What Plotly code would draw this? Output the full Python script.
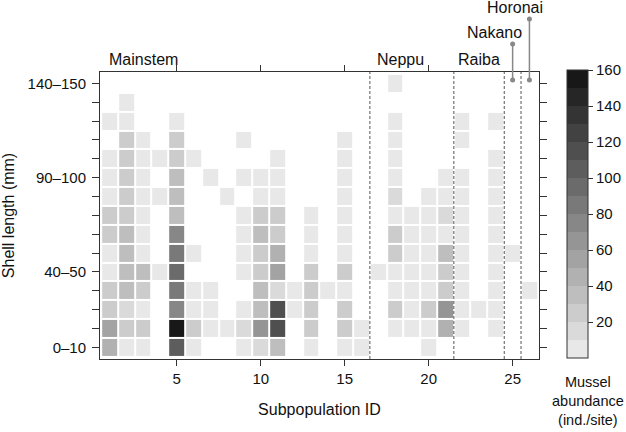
import plotly.graph_objects as go

_ = None
L = 5  # lightest class (0-10 ind./site)

subpop_ids = list(range(1, 27))
length_bins = ["0–10", "10–20", "20–30", "30–40", "40–50", "50–60", "60–70", "70–80",
               "80–90", "90–100", "100–110", "110–120", "120–130", "130–140", "140–150"]
shown_bins = ["0–10", "40–50", "90–100", "140–150"]

#            1    2    3    4    5    6    7    8    9   10   11   12   13   14   15   16   17   18   19   20   21   22   23   24   25   26
len_0_10   = [45,  L,   L,   _,  100, L,   _,   _,   L,   18,  35,  _,   L,   _,   L,   L,   _,   _,   _,   L,   _,   _,   _,   _,   _,   _]
len_10_20  = [55,  25,  20,  _,  155, 20,  L,   L,   18,  65,  115, _,   20,  _,   20,  L,   _,   L,   L,   L,   40,  L,   _,   L,   _,   _]
len_20_30  = [20,  18,  L,   _,  75,  L,   L,   _,   L,   30,  110, L,   20,  _,   25,  _,   _,   22,  L,   20,  65,  L,   L,   L,   _,   _]
len_30_40  = [20,  30,  20,  _,  80,  L,   L,   _,   _,   30,  18,  L,   22,  L,   L,   _,   _,   L,   L,   L,   25,  L,   _,   L,   _,   L]
len_40_50  = [L,   30,  32,  L,  90,  _,   _,   _,   L,   28,  50,  _,   20,  _,   22,  _,   L,   L,   L,   L,   25,  L,   _,   L,   _,   _]
len_50_60  = [L,   38,  L,   _,  85,  L,   _,   _,   L,   20,  40,  _,   L,   _,   L,   _,   _,   20,  L,   L,   35,  L,   _,   L,   L,   _]
len_60_70  = [20,  30,  L,   _,  70,  _,   _,   _,   L,   35,  25,  _,   L,   _,   L,   _,   _,   20,  L,   L,   L,   L,   _,   L,   _,   _]
len_70_80  = [20,  20,  L,   _,  38,  _,   _,   _,   L,   22,  20,  _,   L,   _,   L,   _,   _,   L,   L,   L,   18,  L,   _,   L,   _,   _]
len_80_90  = [L,   20,  L,   L,  32,  _,   _,   L,   _,   L,   L,   _,   _,   _,   L,   _,   _,   18,  _,   L,   L,   L,   _,   L,   _,   _]
len_90_100 = [L,   20,  L,   _,  38,  _,   L,   _,   L,   L,   L,   _,   _,   _,   L,   _,   _,   L,   _,   _,   L,   L,   _,   L,   _,   _]
len_100_110= [L,   20,  L,   L,  22,  L,   _,   _,   _,   _,   L,   _,   _,   _,   L,   _,   _,   L,   _,   _,   _,   _,   _,   L,   _,   _]
len_110_120= [_,   22,  L,   _,  22,  _,   _,   _,   L,   _,   _,   _,   _,   _,   L,   _,   _,   L,   _,   _,   _,   L,   _,   _,   _,   _]
len_120_130= [L,   L,   _,   _,  L,   _,   _,   _,   _,   _,   _,   _,   _,   _,   _,   _,   _,   L,   _,   _,   _,   L,   _,   L,   _,   _]
len_130_140= [_,   L,   _,   _,  _,   _,   _,   _,   _,   _,   _,   _,   _,   _,   _,   _,   _,   _,   _,   _,   _,   _,   _,   _,   _,   _]
len_140_150= [_,   _,   _,   _,  _,   _,   _,   _,   _,   _,   _,   _,   _,   _,   _,   _,   _,   L,   _,   _,   _,   _,   _,   _,   _,   _]

abundance_rows = [len_0_10, len_10_20, len_20_30, len_30_40, len_40_50, len_50_60, len_60_70,
                  len_70_80, len_80_90, len_90_100, len_100_110, len_110_120, len_120_130,
                  len_130_140, len_140_150]

region_names = ["Mainstem", "Neppu", "Raiba"]
region_label_x = [3.0, 18.35, 23.0]
region_boundaries = [16.5, 21.5, 24.5, 25.5]
pointer_names = ["Nakano", "Horonai"]
pointer_ids = [25, 26]
colorbar_ticks = [20, 40, 60, 80, 100, 120, 140, 160]

# discrete grey scale, 16 classes of 10
n_cls = 16
greys = [round(232 - i * (232 - 24) / (n_cls - 1)) for i in range(n_cls)]
colorscale = []
for i, g in enumerate(greys):
    c = f"rgb({g},{g},{g})"
    colorscale.append([i / n_cls, c])
    colorscale.append([(i + 1) / n_cls, c])

FONT = "Liberation Sans, Arial, sans-serif"
AX = "#333333"

fig = go.Figure(go.Heatmap(
    x=subpop_ids,
    y=list(range(len(length_bins))),
    z=abundance_rows,
    zmin=0, zmax=160,
    colorscale=colorscale,
    xgap=2, ygap=2,
    hoverongaps=False,
    colorbar=dict(
        x=1.0638, xanchor="left", xpad=0, ypad=0,
        y=0.505, yanchor="middle",
        len=288, lenmode="pixels",
        thickness=21, thicknessmode="pixels",
        outlinewidth=1, outlinecolor=AX,
        ticks="outside", ticklen=5, tickcolor=AX,
        tickvals=colorbar_ticks,
        tickfont=dict(family=FONT, size=15, color="#111"),
    ),
))

ytext = [b if b in shown_bins else "" for b in length_bins]

fig.update_xaxes(
    range=[0.43, 26.57], tickvals=[5, 10, 15, 20, 25],
    ticks="outside", ticklen=6, tickcolor=AX, showline=True, linecolor=AX, linewidth=1,
    mirror="ticks", showgrid=False, zeroline=False,
    tickfont=dict(family=FONT, size=15, color="#111"),
    title=dict(text="Subpopulation ID", font=dict(family=FONT, size=16, color="#111"), standoff=17),
)
fig.update_yaxes(
    range=[-0.62, 14.6], tickvals=list(range(len(length_bins))), ticktext=ytext,
    ticks="outside", ticklen=7, tickcolor=AX, showline=True, linecolor=AX, linewidth=1,
    mirror="ticks", showgrid=False, zeroline=False, ticklabelstandoff=3,
    tickfont=dict(family=FONT, size=15, color="#111"),
    title=dict(text="Shell length (mm)", font=dict(family=FONT, size=16, color="#111"), standoff=8),
)

shapes = []
for b in region_boundaries:
    shapes.append(dict(type="line", xref="x", yref="paper", x0=b, x1=b, y0=0, y1=1,
                       line=dict(color="#555", width=1, dash="3px,2px")))

pointer_top = [1.0976, 1.1847]
pointer_bottom = 0.972
for pid, top in zip(pointer_ids, pointer_top):
    shapes.append(dict(type="line", xref="x", yref="paper", x0=pid, x1=pid, y0=pointer_bottom, y1=top,
                       line=dict(color="#888", width=1.5)))
    for yy in (pointer_bottom, top):
        shapes.append(dict(type="circle", xref="x", yref="paper", xsizemode="pixel", ysizemode="pixel",
                           xanchor=pid, yanchor=yy, x0=-2.5, x1=2.5, y0=-2.5, y1=2.5,
                           fillcolor="#888", line=dict(width=0)))

annotations = []
for name, xx in zip(region_names, region_label_x):
    annotations.append(dict(text=name, x=xx, xref="x", y=1.042, yref="paper", showarrow=False,
                            xanchor="center", yanchor="middle",
                            font=dict(family=FONT, size=16, color="#111")))
for name, pid, yy, sh in zip(pointer_names, pointer_ids, [1.139, 1.226], [-18, -14]):
    annotations.append(dict(text=name, x=pid, xref="x", y=yy, yref="paper", showarrow=False,
                            xanchor="center", yanchor="middle", xshift=sh,
                            font=dict(family=FONT, size=16, color="#111")))
annotations.append(dict(text="Mussel<br>abundance<br>(ind./site)", x=1.1985, xref="paper",
                        y=-0.147, yref="paper", showarrow=False, xanchor="right", yanchor="middle",
                        align="center", font=dict(family=FONT, size=14.5, color="#111")))

fig.update_layout(
    width=626, height=432,
    margin=dict(l=100, r=87, t=72, b=73, autoexpand=False),
    paper_bgcolor="white", plot_bgcolor="white",
    shapes=shapes, annotations=annotations,
    font=dict(family=FONT, color="#111"),
)

fig.write_html("out.html", config={"displayModeBar": False},
               post_script="document.body.style.margin='0';document.body.style.overflow='hidden';")
